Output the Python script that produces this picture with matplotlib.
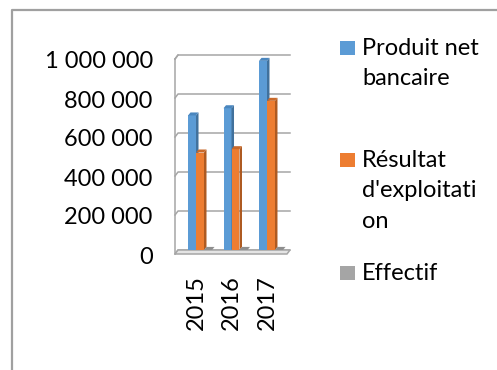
import numpy as np
import matplotlib.pyplot as plt
from matplotlib.patches import Polygon, Rectangle
from matplotlib.lines import Line2D
from matplotlib.transforms import ScaledTranslation

plt.rcParams['font.family'] = ['Lato', 'DejaVu Sans']

years = ['2015', '2016', '2017']
series_names = ['Produit net\nbancaire', "Résultat\nd'exploitati\non", 'Effectif']
produit_net = [690000, 727000, 970000]
resultat_expl = [500000, 517000, 765000]
effectif = [450, 470, 520]
colors = ['#5B9BD5', '#ED7D31', '#A5A5A5']
side_colors = ['#41719C', '#AE5A21', '#7C7C7C']
top_colors = ['#4A86BE', '#C9692A', '#8E8E8E']

W, H = 497, 370
fig = plt.figure(figsize=(W / 100, H / 100), dpi=100)

# plot box (back wall) in pixels
left_px, right_px = 175, 290
zero_px, top_px = 250, 55
ax = fig.add_axes([left_px / W, (H - zero_px) / H,
                   (right_px - left_px) / W, (zero_px - top_px) / H])
xmin, xmax = -0.592, 2.648
ymax = 1000000
ax.set_xlim(xmin, xmax)
ax.set_ylim(0, ymax)
for s in ax.spines.values():
    s.set_visible(False)

# depth of the pseudo-3d box, pixels -> data units
px_x = (xmax - xmin) / (right_px - left_px)
px_y = ymax / (zero_px - top_px)
ddx, ddy = 3 * px_x, 4 * px_y
bdx, bdy = 2.5 * px_x, 3 * px_y

grid_c = '#A6A6A6'
ticks = np.arange(0, 1000001, 200000)
for v in ticks:
    ax.plot([xmin, xmin + ddx, xmax], [v - ddy, v, v], color=grid_c, lw=1.1,
            clip_on=False, zorder=1)
ax.plot([xmin, xmin], [-ddy, ymax - ddy], color=grid_c, lw=1.1, clip_on=False, zorder=1)
ax.plot([xmin, xmin + ddx], [ymax - ddy, ymax], color=grid_c, lw=1.1, clip_on=False, zorder=1)
floor = Polygon([(xmin, -ddy), (xmin + ddx, 0), (xmax, 0), (xmax - ddx, -ddy)],
                closed=True, facecolor='#E4E4E4', edgecolor=grid_c, lw=1.1,
                clip_on=False, zorder=1)
ax.add_patch(floor)

bw = 0.225
x = np.arange(len(years))
for k, vals in enumerate([produit_net, resultat_expl, effectif]):
    for xi, v in zip(x, vals):
        x0 = xi + (k - 1) * bw
        x1 = x0 + bw
        ax.add_patch(Rectangle((x0, 0), bw, v, facecolor=colors[k], lw=0, zorder=3))
        ax.add_patch(Polygon([(x1, 0), (x1 + bdx, bdy), (x1 + bdx, v + bdy), (x1, v)],
                             closed=True, facecolor=side_colors[k], lw=0, zorder=3))
        ax.add_patch(Polygon([(x0, v), (x0 + bdx, v + bdy), (x1 + bdx, v + bdy), (x1, v)],
                             closed=True, facecolor=top_colors[k], lw=0, zorder=3))

ax.set_yticks(ticks)
ax.set_yticklabels([f'{int(t):,}'.replace(',', ' ') for t in ticks], fontsize=17)
ax.tick_params(axis='y', length=0, pad=16)
shift = ScaledTranslation(0, -5 / 100, fig.dpi_scale_trans)
for lab in ax.get_yticklabels():
    lab.set_transform(lab.get_transform() + shift)

ax.set_xticks(x)
ax.set_xticklabels(years, rotation=90, fontsize=17, va='top')
ax.tick_params(axis='x', length=0, pad=18)

# legend
leg_y = [41, 153, 266]
for k, name in enumerate(series_names):
    y = leg_y[k]
    fig.patches.append(Rectangle((340 / W, 1 - (y + 14) / H), 15 / W, 14 / H,
                                 transform=fig.transFigure, facecolor=colors[k], lw=0))
    fig.text(362 / W, 1 - (y - 3) / H, name, fontsize=17, va='top', ha='left',
             linespacing=1.55)

# chart frame
frame_c = '#A0A0A0'
fig.add_artist(Line2D([11.5 / W, 11.5 / W, 1], [0, 1 - 10 / H, 1 - 10 / H],
                      transform=fig.transFigure, color=frame_c, lw=1.6))

fig.savefig('out.png', dpi=100)
